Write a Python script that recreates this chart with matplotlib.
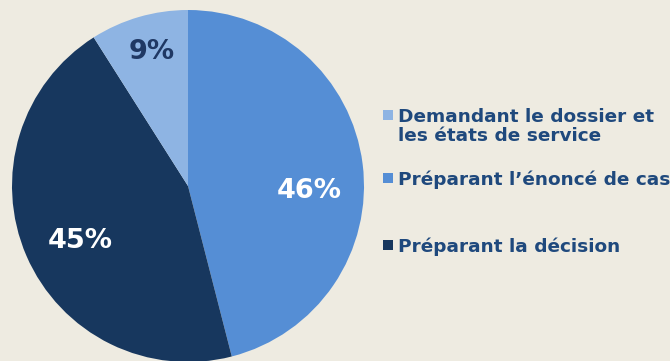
import matplotlib.pyplot as plt
from matplotlib.patches import Rectangle

# slices in clockwise order from 12 o'clock
labels = [
    "Préparant l’énoncé de cas",
    "Préparant la décision",
    "Demandant le dossier et\nles états de service",
]
values = [46, 45, 9]
colors = ["#558ED5", "#17375E", "#8EB4E3"]
pct_colors = ["white", "white", "#1F3864"]

# legend order (top to bottom) as in the slide
legend_order = [2, 0, 1]

BG = "#EEEBE1"
TEXT = "#1F497D"

W, H = 670, 361
fig = plt.figure(figsize=(W / 100, H / 100), dpi=100, facecolor=BG)

# pie centre (188, 186) px, radius 176 px
cx, cy, r = 188, 186, 176
ax = fig.add_axes([(cx - r) / W, (H - cy - r) / H, 2 * r / W, 2 * r / H])
ax.set_facecolor(BG)

wedges, texts, autotexts = ax.pie(
    values,
    colors=colors,
    startangle=90,
    counterclock=False,
    autopct="%d%%",
    radius=1.0,
    wedgeprops=dict(linewidth=0),
    textprops=dict(fontsize=19.5, fontweight="bold"),
)
# label placement as on the slide (axes data units, radius 1)
label_xy = [(0.6875, -0.03), (-0.614, -0.31), (-0.205, 0.76)]
for t, c, xy in zip(autotexts, pct_colors, label_xy):
    t.set_color(c)
    t.set_position(xy)

ax.set_xlim(-1, 1)
ax.set_ylim(-1, 1)
ax.set_aspect("equal")
ax.axis("off")

# manual legend: square marker + bold text
# (marker centre y, last-line baseline y) in px
rows = [(115, 141), (178, 185), (245, 252)]
for i, (yc, base) in zip(legend_order, rows):
    mk = 10
    fig.add_artist(Rectangle(((388 - mk / 2) / W, 1 - (yc + mk / 2) / H), mk / W, mk / H,
                             transform=fig.transFigure, facecolor=colors[i],
                             edgecolor="none"))
    fig.text(398 / W, 1 - base / H, labels[i], fontsize=13.3, fontweight="bold",
             color=TEXT, ha="left", va="baseline", linespacing=1.05)

fig.savefig("out.png", dpi=100, facecolor=BG)
